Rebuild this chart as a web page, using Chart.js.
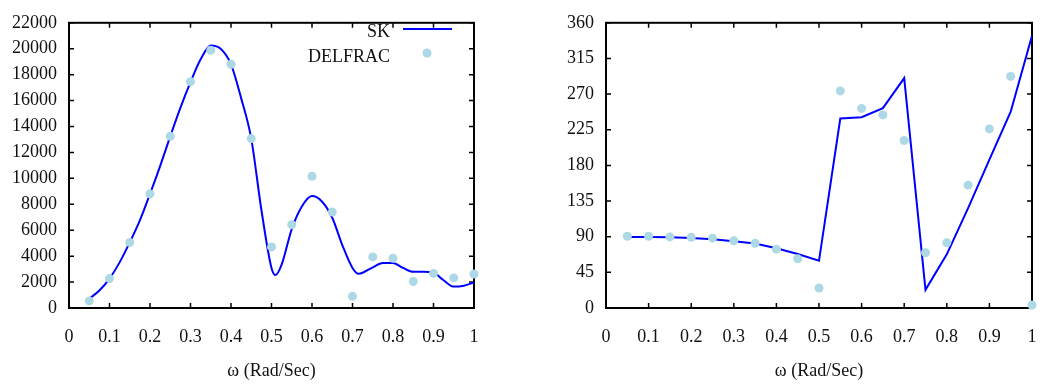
<!DOCTYPE html>
<html>
<head>
<meta charset="utf-8">
<script src="https://cdn.jsdelivr.net/npm/chart.js@4"></script>
<style>
    body { margin: 0; background: #fff; }
    .painel { position: absolute; top: 0; height: 385px; }
</style>
</head>
<body>
<div class="painel" style="left:0; width:520px;"><canvas id="grafico_amplitude" width="520" height="385"></canvas></div>
<div class="painel" style="left:520px; width:523px;"><canvas id="grafico_fase" width="523" height="385"></canvas></div>
<script>

/* Curva SK (amplitude) */
const omega_sk = [0.05, 0.075, 0.1, 0.125, 0.15, 0.175, 0.2, 0.225, 0.25, 0.275,
    0.3, 0.325, 0.35, 0.375, 0.4, 0.425, 0.45, 0.475, 0.5, 0.51,
    0.525, 0.55, 0.575, 0.6, 0.625, 0.65, 0.675, 0.7, 0.715, 0.725,
    0.75, 0.775, 0.8, 0.825, 0.85, 0.875, 0.9, 0.925, 0.95, 0.975, 1.0];
const amplitude_sk = [720, 1350, 2270, 3520, 5060, 6760, 8800, 10950, 13240, 15440,
    17420, 19180, 20250, 19980, 18800, 16190, 13070, 7580, 3090, 2540,
    3340, 6090, 7830, 8630, 8200, 6960, 4840, 3090, 2640, 2720,
    3140, 3470, 3470, 3090, 2790, 2790, 2720, 2140, 1650, 1720, 1970];

/* Pontos DELFRAC, de 0.05 em 0.05 */
const omega_delfrac = [0.05, 0.1, 0.15, 0.2, 0.25, 0.3, 0.35, 0.4, 0.45, 0.5,
    0.55, 0.6, 0.65, 0.7, 0.75, 0.8, 0.85, 0.9, 0.95, 1.0];
const amplitude_delfrac = [546, 2270, 5060, 8800, 13240, 17460, 19880, 18800, 13070, 4710,
    6430, 10160, 7400, 900, 3940, 3840, 2040, 2670, 2320, 2620];

/* Fase (graus) */
const fase_sk = [89.7, 89.7, 89.3, 88.5, 86.8, 84.4, 81.5, 75.4, 68.1, 59.6,
    239.2, 240.8, 252.2, 290.2, 22.9, 67.7, 126, 187.3, 247.7, 343.7];
const fase_delfrac = [90.5, 90.5, 89.7, 89.3, 88.2, 84.9, 81.6, 74.3, 62.1, 25.3,
    274, 251.9, 243.7, 211.4, 69.8, 82.4, 155.1, 226.1, 292.3, 3.7];

const titulo_eixo_x = 'ω (Rad/Sec)';
const fonte = { family: "'Liberation Serif', 'DejaVu Serif', serif", size: 18 };

const pares = (xs, ys) => xs.map((x, i) => ({ x: x, y: ys[i] }));
const rotulo = v => String(+Number(v).toFixed(2));

/* Moldura com marcas de escala para dentro nos quatro lados */
const moldura = {
    id: 'moldura',
    beforeDatasetsDraw(chart) {
        const { ctx, chartArea: a, scales } = chart;
        ctx.save();
        ctx.strokeStyle = '#000';
        ctx.lineWidth = 1.5;
        ctx.beginPath();
        scales.x.ticks.forEach(t => {
            const px = scales.x.getPixelForValue(t.value);
            ctx.moveTo(px, a.bottom); ctx.lineTo(px, a.bottom - 5);
            ctx.moveTo(px, a.top); ctx.lineTo(px, a.top + 5);
        });
        scales.y.ticks.forEach(t => {
            const py = scales.y.getPixelForValue(t.value);
            ctx.moveTo(a.left, py); ctx.lineTo(a.left + 5, py);
            ctx.moveTo(a.right, py); ctx.lineTo(a.right - 5, py);
        });
        ctx.stroke();
        ctx.lineWidth = 2;
        ctx.strokeRect(a.left, a.top, a.right - a.left, a.bottom - a.top);
        ctx.restore();
    }
};

/* Legenda estilo gnuplot: texto à direita, amostra depois */
const legenda = {
    id: 'legenda',
    afterDraw(chart) {
        const ctx = chart.ctx;
        const ds = chart.data.datasets;
        ctx.save();
        ctx.font = "18px 'Liberation Serif', serif";
        ctx.fillStyle = '#111';
        ctx.textAlign = 'right';
        ctx.textBaseline = 'alphabetic';
        ctx.fillText(ds[0].label, 390, 37);
        ctx.fillText(ds[1].label, 390, 61.5);
        ctx.strokeStyle = ds[0].borderColor;
        ctx.lineWidth = 2;
        ctx.beginPath();
        ctx.moveTo(403, 29); ctx.lineTo(452, 29);
        ctx.stroke();
        ctx.fillStyle = ds[1].backgroundColor;
        ctx.beginPath();
        ctx.arc(427, 53, 4.5, 0, Math.PI * 2);
        ctx.fill();
        ctx.restore();
    }
};

function opcoes(y_max, y_passo, largura_y, pad_direita) {
    return {
        responsive: false,
        animation: false,
        layout: { padding: { top: 14, right: pad_direita, left: 0, bottom: 0 } },
        plugins: { legend: { display: false }, tooltip: { enabled: false } },
        scales: {
            x: {
                type: 'linear', min: 0, max: 1,
                grid: { display: false, drawTicks: false },
                border: { display: false },
                ticks: { stepSize: 0.1, padding: 18, color: '#111', font: fonte, maxRotation: 0, callback: rotulo },
                title: { display: true, text: titulo_eixo_x, color: '#111', font: fonte, padding: { top: 0, bottom: 3 } },
                afterFit(s) {
                    // altura fixa e sem folga lateral extra pelos rótulos das pontas
                    s.height = 77;
                    s.paddingLeft = 0;
                    s.paddingRight = 0;
                }
            },
            y: {
                min: 0, max: y_max,
                grid: { display: false, drawTicks: false },
                border: { display: false },
                ticks: { stepSize: y_passo, padding: 12, color: '#111', font: fonte, callback: rotulo },
                afterFit(s) { s.width = largura_y; }
            }
        }
    };
}

const grafico_amplitude = new Chart(document.getElementById('grafico_amplitude'), {
    type: 'line',
    data: {
        datasets: [{
            label: 'SK',
            data: pares(omega_sk, amplitude_sk),
            borderColor: 'rgb(0, 0, 255)',
            borderWidth: 2,
            pointRadius: 0,
            cubicInterpolationMode: 'monotone',
            order: 1
        }, {
            label: 'DELFRAC',
            data: pares(omega_delfrac, amplitude_delfrac),
            showLine: false,
            backgroundColor: 'rgb(173, 216, 230)',
            pointBackgroundColor: 'rgb(173, 216, 230)',
            pointBorderWidth: 0,
            pointRadius: 4.5,
            clip: false,
            order: 0
        }]
    },
    options: opcoes(22000, 2000, 69, 46),
    plugins: [moldura, legenda]
});

const grafico_fase = new Chart(document.getElementById('grafico_fase'), {
    type: 'line',
    data: {
        datasets: [{
            label: 'SK',
            data: pares(omega_delfrac, fase_sk),
            borderColor: 'rgb(0, 0, 255)',
            borderWidth: 2,
            pointRadius: 0,
            tension: 0,
            order: 1
        }, {
            label: 'DELFRAC',
            data: pares(omega_delfrac, fase_delfrac),
            showLine: false,
            backgroundColor: 'rgb(173, 216, 230)',
            pointBackgroundColor: 'rgb(173, 216, 230)',
            pointBorderWidth: 0,
            pointRadius: 4.5,
            clip: false,
            order: 0
        }]
    },
    options: opcoes(360, 45, 86, 11),
    plugins: [moldura]
});
</script>
</body>
</html>
